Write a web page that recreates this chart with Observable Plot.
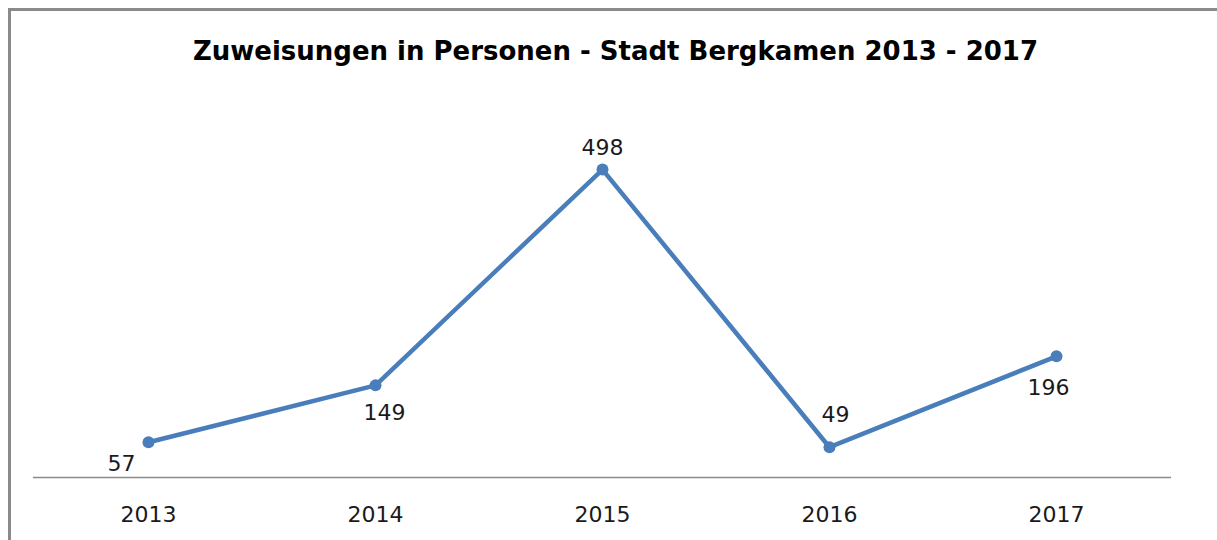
<!DOCTYPE html>
<html>
<head>
<meta charset="utf-8">
<script src="https://cdn.jsdelivr.net/npm/d3@7"></script>
<script src="https://cdn.jsdelivr.net/npm/@observablehq/plot@0.6"></script>
<style>
  html, body { margin: 0; padding: 0; background: #fff; }
  #wrap { position: relative; width: 1217px; height: 540px; overflow: hidden; }
  #border { position: absolute; left: 8px; top: 8px; width: 1300px; height: 600px;
            border-left: 3px solid #8a8a8a; border-top: 3px solid #8a8a8a; pointer-events: none; }
</style>
</head>
<body>
<div id="wrap"><div id="border"></div></div>
<script>
const title = "Zuweisungen in Personen - Stadt Bergkamen 2013 - 2017";
const years = ["2013", "2014", "2015", "2016", "2017"];
const values = [57, 149, 498, 49, 196];

const data = years.map((y, i) => ({year: y, value: values[i]}));

// label placement (styling only): [dx, dy] per point
const labelOffsets = [[-27, 22], [9, 28], [0, -22], [6, -32], [-8, 32]];

const font = "DejaVu Sans, sans-serif";
const blue = "#4a7ebb";

const labelMarks = data.map((d, i) => Plot.text([d], {
  x: "year", y: "value", text: d => String(d.value),
  dx: labelOffsets[i][0], dy: labelOffsets[i][1],
  fontSize: 22, fill: "#1a1a1a", fontFamily: font
}));

const chart = Plot.plot({
  width: 1217,
  height: 540,
  marginLeft: 33,
  marginRight: 46,
  marginTop: 106,
  marginBottom: 63,
  style: {fontFamily: font, background: "transparent", overflow: "visible"},
  x: {type: "point", domain: years, padding: 0.5, label: null},
  y: {domain: [0, 600], axis: null},
  marks: [
    Plot.ruleY([0], {stroke: "#8a8a8a", strokeWidth: 1.5}),
    Plot.axisX({tickSize: 0, tickPadding: 29, fontSize: 22, fill: "#1a1a1a", label: null}),
    Plot.line(data, {x: "year", y: "value", stroke: blue, strokeWidth: 4.5, strokeLinejoin: "round"}),
    Plot.dot(data, {x: "year", y: "value", r: 6, fill: blue, stroke: "none"}),
    ...labelMarks
  ]
});

const wrap = document.getElementById("wrap");
chart.style.position = "absolute";
chart.style.left = "0px";
chart.style.top = "0px";
wrap.insertBefore(chart, wrap.firstChild);

// Title as SVG text
const ns = "http://www.w3.org/2000/svg";
const t = document.createElementNS(ns, "text");
t.setAttribute("x", 615.5);
t.setAttribute("y", 60);
t.setAttribute("text-anchor", "middle");
t.setAttribute("font-family", font);
t.setAttribute("font-weight", "bold");
t.setAttribute("font-size", 27);
t.setAttribute("fill", "#000");
t.setAttribute("textLength", 845);
t.setAttribute("lengthAdjust", "spacingAndGlyphs");
t.textContent = title;
chart.appendChild(t);
</script>
</body>
</html>
